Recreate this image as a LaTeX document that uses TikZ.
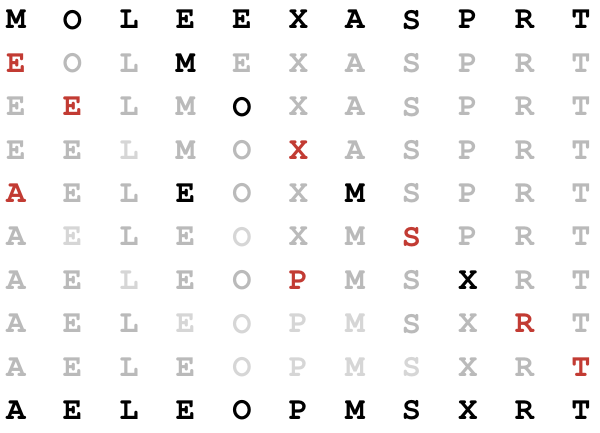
\documentclass[tikz,border=0pt]{standalone}
\usepackage[T1]{fontenc}
\usepackage{courier}
\definecolor{hitred}{HTML}{C23B33}
\definecolor{restgray}{HTML}{BABABA}
\definecolor{faintgray}{HTML}{D6D6D6}

\tikzset{
  key/.style={font=\ttfamily\bfseries\fontsize{16}{16}\selectfont, text=black},
  hit/.style={font=\ttfamily\bfseries\fontsize{16}{16}\selectfont, text=hitred},
  rest/.style={font=\ttfamily\bfseries\fontsize{16}{16}\selectfont, text=restgray},
  faint/.style={font=\ttfamily\bfseries\fontsize{16}{16}\selectfont, text=faintgray},
}

\begin{document}
\begin{tikzpicture}[x=0.5pt,y=-0.5pt]

\useasboundingbox (0,0) rectangle (600,433);

%% trace rows
\foreach \row [count=\i from 0] in {
  {M/key,O/key,L/key,E/key,E/key,X/key,A/key,S/key,P/key,R/key,T/key},
  {E/hit,O/rest,L/rest,M/key,E/rest,X/rest,A/rest,S/rest,P/rest,R/rest,T/rest},
  {E/rest,E/hit,L/rest,M/rest,O/key,X/rest,A/rest,S/rest,P/rest,R/rest,T/rest},
  {E/rest,E/rest,L/faint,M/rest,O/rest,X/hit,A/rest,S/rest,P/rest,R/rest,T/rest},
  {A/hit,E/rest,L/rest,E/key,O/rest,X/rest,M/key,S/rest,P/rest,R/rest,T/rest},
  {A/rest,E/faint,L/rest,E/rest,O/faint,X/rest,M/rest,S/hit,P/rest,R/rest,T/rest},
  {A/rest,E/rest,L/faint,E/rest,O/rest,P/hit,M/rest,S/rest,X/key,R/rest,T/rest},
  {A/rest,E/rest,L/rest,E/faint,O/faint,P/faint,M/faint,S/rest,X/rest,R/hit,T/rest},
  {A/rest,E/rest,L/rest,E/rest,O/faint,P/faint,M/faint,S/faint,X/rest,R/rest,T/hit},
  {A/key,E/key,L/key,E/key,O/key,P/key,M/key,S/key,X/key,R/key,T/key}%
}{
  \foreach \ch/\st [count=\j from 0] in \row
    \node[\st] (c\i-\j) at ({16+56.5*\j},{20+43.4*\i}) {\ch};
}

\end{tikzpicture}
\end{document}
